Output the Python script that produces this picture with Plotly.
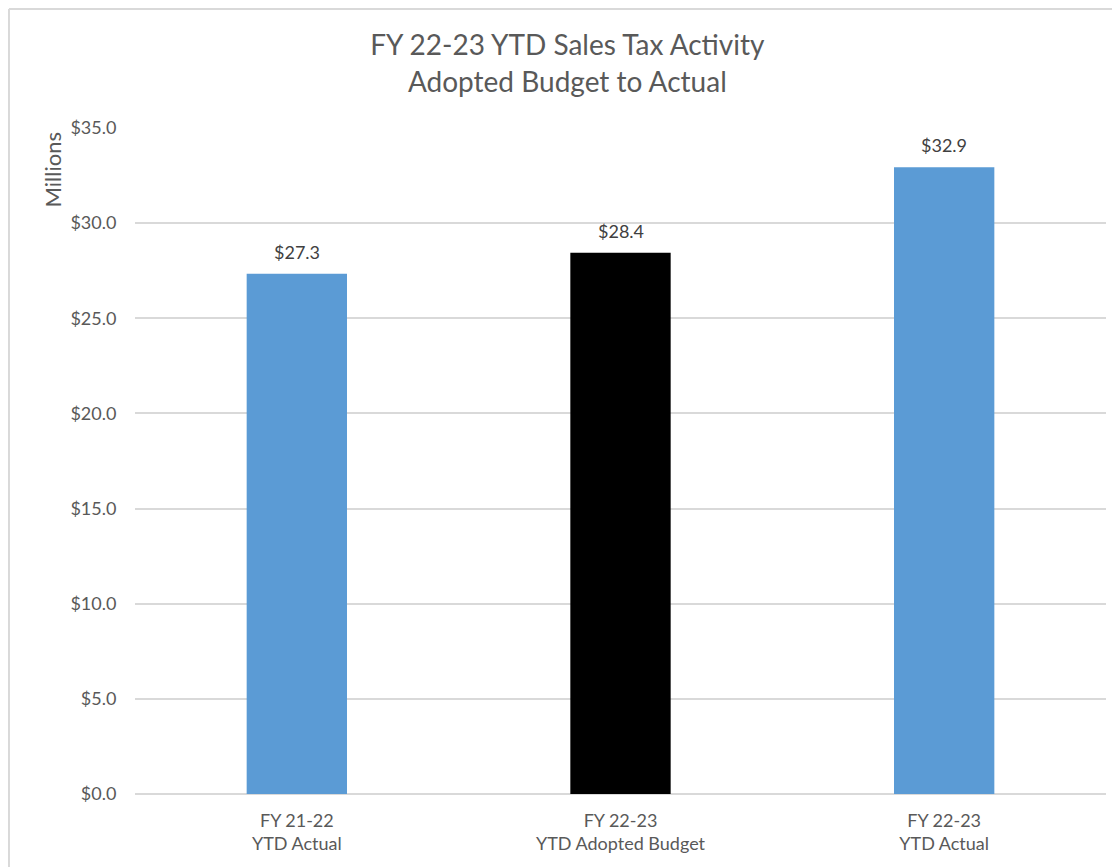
import plotly.graph_objects as go

categories = ["FY 21-22<br>YTD Actual", "FY 22-23<br>YTD Adopted Budget", "FY 22-23<br>YTD Actual"]
values = [27.34, 28.44, 32.94]
bar_colors = ["#5B9BD5", "#000000", "#5B9BD5"]

FONT = "Lato, 'Open Sans', sans-serif"

fig = go.Figure()
fig.add_trace(go.Bar(
    x=categories,
    y=values,
    marker={"color": bar_colors, "line": {"width": 0}},
    width=0.31,
    hoverinfo="x+y",
))

# data labels above the bars
for cat, val in zip(categories, values):
    fig.add_annotation(
        x=cat, y=val, text=f"${val:.1f}", showarrow=False,
        yshift=22, font={"family": FONT, "size": 18, "color": "#404040"},
    )

# y-axis title sits at the top like in Excel
fig.add_annotation(
    text="Millions", xref="paper", yref="paper", x=-0.085, y=0.937,
    xanchor="center", yanchor="middle",
    textangle=-90, showarrow=False, font={"family": FONT, "size": 22, "color": "#595959"},
)

# chart frame (top and left edges visible)
frame = {"color": "#D9D9D9", "width": 2}
fig.add_shape(type="line", xref="paper", yref="paper", x0=-0.1298, x1=1.02, y0=1.1787, y1=1.1787, line=frame)
fig.add_shape(type="line", xref="paper", yref="paper", x0=-0.1298, x1=-0.1298, y0=-0.12, y1=1.1787, line=frame)

fig.update_layout(
    width=1112,
    height=859,
    title={
        "text": "FY 22-23 YTD Sales Tax Activity<br>Adopted Budget to Actual",
        "x": 0.503, "xanchor": "center", "xref": "container",
        "y": 0.945, "yanchor": "top", "yref": "container",
        "font": {"family": FONT, "size": 28, "color": "#595959"},
    },
    margin={"l": 127, "r": 14, "t": 120, "b": 73, "pad": 0},
    plot_bgcolor="white",
    paper_bgcolor="white",
    showlegend=False,
    font={"family": FONT, "size": 18, "color": "#595959"},
)
fig.update_xaxes(
    showgrid=False, showline=False,
    ticks="outside", ticklen=10, tickcolor="rgba(0,0,0,0)",
    tickfont={"family": FONT, "size": 18, "color": "#595959"},
)
fig.update_yaxes(
    range=[0, 35], dtick=5, tickprefix="$", tickformat=".1f",
    showgrid=True, gridcolor="#D9D9D9", gridwidth=1.5,
    zeroline=True, zerolinecolor="#D9D9D9", zerolinewidth=1.5,
    showline=False, ticks="outside", ticklen=14, tickcolor="rgba(0,0,0,0)",
    tickfont={"family": FONT, "size": 18, "color": "#595959"},
)

fig.write_html("out.html")
